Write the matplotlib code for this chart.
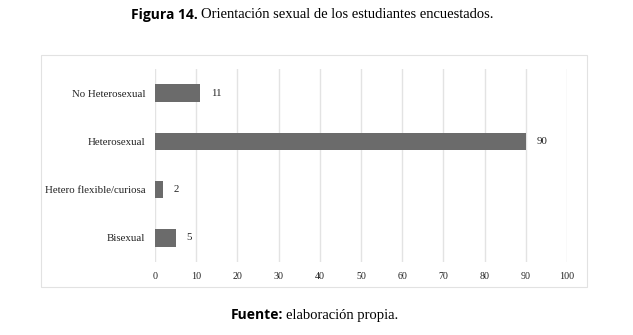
import matplotlib.pyplot as plt
from matplotlib.patches import Rectangle

# data
categorias = ["Bisexual", "Hetero flexible/curiosa", "Heterosexual", "No Heterosexual"]
valores = [5, 2, 90, 11]
ticks_x = [0, 10, 20, 30, 40, 50, 60, 70, 80, 90, 100]

bar_color = "#6b6b6b"
grid_color = "#e3e3e3"
serif = "Liberation Serif"

W, H = 633, 335
fig = plt.figure(figsize=(W / 100, H / 100), dpi=100)

# chart frame
fig.patches.append(Rectangle((41 / W, 1 - 287 / H), (587 - 41) / W, (287 - 55) / H,
                             transform=fig.transFigure, fill=False,
                             edgecolor="#e2e2e2", linewidth=0.8))

ax = fig.add_axes([155 / W, 1 - 262 / H, (567 - 155) / W, (262 - 69) / H])
ypos = range(len(categorias))
ax.barh(ypos, valores, height=0.36, color=bar_color, zorder=3)
for y, v in zip(ypos, valores):
    ax.annotate(str(v), (v, y), xytext=(7.5, 0), textcoords="offset points",
                ha="left", va="center", fontsize=7.8, family=serif, color="#222222")

ax.set_xlim(0, 100)
ax.set_ylim(-0.5, 3.5)
ax.set_xticks(ticks_x)
ax.set_yticks(list(ypos))
ax.set_yticklabels(categorias)
ax.grid(axis="x", color=grid_color, linewidth=1, zorder=0)
for s in ax.spines.values():
    s.set_visible(False)
ax.tick_params(length=0, labelsize=7.2, colors="#222222")
ax.tick_params(axis="x", pad=7)
ax.tick_params(axis="y", pad=7, labelsize=7.8)
for lab in ax.get_xticklabels() + ax.get_yticklabels():
    lab.set_family(serif)

# title and source
fig.text(198 / W, 1 - 15 / H, "Figura 14.", ha="right", va="center",
         fontsize=10, fontweight="bold", family="Open Sans")
fig.text(201 / W, 1 - 15 / H, "Orientación sexual de los estudiantes encuestados.",
         ha="left", va="center", fontsize=10.5, family=serif)
fig.text(283 / W, 1 - 315 / H, "Fuente:", ha="right", va="center",
         fontsize=10, fontweight="bold", family="Open Sans")
fig.text(286 / W, 1 - 315 / H, "elaboración propia.", ha="left", va="center",
         fontsize=10.5, family=serif)

fig.savefig("out.png", dpi=100)
